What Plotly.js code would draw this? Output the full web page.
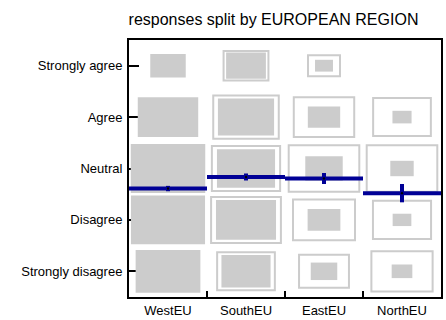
<!DOCTYPE html>
<html>
<head>
<meta charset="utf-8">
<script src="https://cdn.plot.ly/plotly-3.0.1.min.js"></script>
<style>
  html, body { margin: 0; padding: 0; background: #fff; }
  #chart { width: 446px; height: 320px; }
</style>
</head>
<body>
<div id="chart"></div>
<script>
// regions (columns) and answer levels, bottom to top (y = 1..5)
const regions = ['WestEU', 'SouthEU', 'EastEU', 'NorthEU'];
const levels = ['Strongly disagree', 'Disagree', 'Neutral', 'Agree', 'Strongly agree'];

// filled box size, as a fraction of the cell (order follows levels)
const westFill = [0.83, 0.95, 0.955, 0.775, 0.455];
const southFill = [0.63, 0.77, 0.745, 0.72, 0.51];
const eastFill = [0.34, 0.42, 0.48, 0.415, 0.23];
const northFill = [0.265, 0.24, 0.30, 0.245, 0];

// outlined box size (hidden behind the fill for WestEU)
const westOutline = [null, null, null, null, null];
const southOutline = [0.74, 0.895, 0.875, 0.84, 0.575];
const eastOutline = [0.64, 0.795, 0.905, 0.775, 0.41];
const northOutline = [0.785, 0.745, 0.905, 0.74, 0];

// mean answer per region and its error half-width
const meanScore = [2.61, 2.835, 2.805, 2.52];
const meanErr = [0.052, 0.068, 0.107, 0.178];

const fills = [westFill, southFill, eastFill, northFill];
const outlines = [westOutline, southOutline, eastOutline, northOutline];

const grey = '#cccccc';
const blue = '#000096';

let shapes = [];

for (let i = 0; i < regions.length; i++) {
    for (let j = 0; j < levels.length; j++) {
        let s = outlines[i][j];
        if (s) {
            shapes.push({
                type: 'rect', xref: 'x', yref: 'y', layer: 'above',
                x0: i - s / 2, x1: i + s / 2, y0: j + 1 - s / 2, y1: j + 1 + s / 2,
                line: {color: grey, width: 2}, fillcolor: 'rgba(0,0,0,0)'
            });
        }
    }
}

for (let i = 0; i < regions.length; i++) {
    for (let j = 0; j < levels.length; j++) {
        let s = fills[i][j];
        if (s) {
            shapes.push({
                type: 'rect', xref: 'x', yref: 'y', layer: 'above',
                x0: i - s / 2, x1: i + s / 2, y0: j + 1 - s / 2, y1: j + 1 + s / 2,
                line: {width: 0}, fillcolor: grey
            });
        }
    }
}

for (let i = 0; i < regions.length; i++) {
    // mean line across the column
    shapes.push({
        type: 'line', xref: 'x', yref: 'y', layer: 'above',
        x0: i - 0.5, x1: i + 0.5, y0: meanScore[i], y1: meanScore[i],
        line: {color: blue, width: 4}
    });
    // error bar
    shapes.push({
        type: 'line', xref: 'x', yref: 'y', layer: 'above',
        x0: i, x1: i, y0: meanScore[i] - meanErr[i], y1: meanScore[i] + meanErr[i],
        line: {color: blue, width: 4}
    });
    // small dot at the mean
    shapes.push({
        type: 'circle', xref: 'x', yref: 'y', layer: 'above',
        xsizemode: 'pixel', ysizemode: 'pixel',
        xanchor: i, yanchor: meanScore[i],
        x0: -1.2, x1: 1.2, y0: -1.2, y1: 1.2,
        line: {width: 0}, fillcolor: '#000000'
    });
}

// invisible trace so both axes exist
let data = [{
    x: regions,
    y: meanScore,
    type: 'scatter',
    mode: 'markers',
    marker: {size: 1, opacity: 0},
    hoverinfo: 'skip',
    showlegend: false
}];

let layout = {
    width: 446,
    height: 320,
    margin: {l: 129, r: 5, t: 40, b: 23},
    paper_bgcolor: '#ffffff',
    plot_bgcolor: '#ffffff',
    font: {family: '"Liberation Sans", Arial, sans-serif', color: '#000000', size: 13},
    title: {
        text: 'responses split by EUROPEAN REGION',
        font: {size: 16, color: '#000000'},
        xref: 'container', yref: 'container',
        x: 273.5 / 446, xanchor: 'center',
        y: 1 - 19 / 320, yanchor: 'middle'
    },
    xaxis: {
        type: 'category',
        categoryorder: 'array',
        categoryarray: regions,
        range: [-0.5, 3.5],
        tickson: 'boundaries',
        ticks: 'inside',
        ticklen: 6,
        tickwidth: 2,
        tickcolor: '#000000',
        showgrid: false,
        zeroline: false,
        showline: true,
        linecolor: '#000000',
        linewidth: 2,
        mirror: true,
        tickfont: {size: 13},
        fixedrange: true
    },
    yaxis: {
        range: [0.5, 5.5],
        tickvals: [1, 2, 3, 4, 5],
        ticktext: levels,
        ticks: 'inside',
        ticklen: 10,
        tickwidth: 2,
        tickcolor: '#000000',
        showgrid: false,
        zeroline: false,
        showline: true,
        linecolor: '#000000',
        linewidth: 2,
        mirror: true,
        tickfont: {size: 13},
        ticklabelstandoff: 2,
        fixedrange: true
    },
    shapes: shapes
};

Plotly.newPlot('chart', data, layout, {staticPlot: true});
</script>
</body>
</html>
